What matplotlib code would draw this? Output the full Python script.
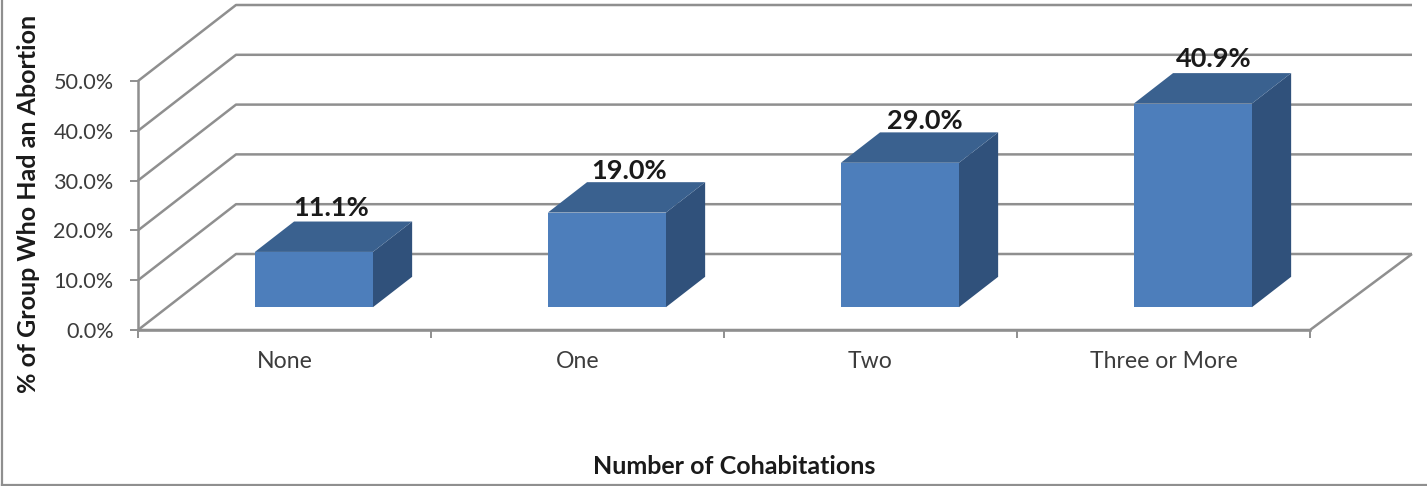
from matplotlib import pyplot as plt
from matplotlib.lines import Line2D
from matplotlib.patches import Polygon
import numpy as np

categories = ['None', 'One', 'Two', 'Three or More']
values = [11.1, 19.0, 29.0, 40.9]
value_labels = ['11.1%', '19.0%', '29.0%', '40.9%']
y_ticks = [0, 10, 20, 30, 40, 50]

W, H = 1427, 486
GRID = '#8f8f8f'
FRONT, TOP, SIDE = '#4d7ebb', '#3a618f', '#30517b'

plt.rcParams['font.family'] = ['Lato', 'DejaVu Sans']

fig = plt.figure(figsize=(W / 100, H / 100), dpi=100)
# front plane of the fake 3d box, in pixels: x 138-1310, y 330-81
ax = fig.add_axes([138 / W, 1 - 330 / H, 1172 / W, 249 / H])
ax.set_xlim(0, 4)
ax.set_ylim(0, 50)
ax.patch.set_visible(False)

# how far the back wall is shifted from the front plane, in data units
depth_x = 98 / 293
depth_y = 76 / (249 / 50)
right_x = 4 + 102 / 293  # right end of the back wall runs a little further


def project(x, y, d):
    return (x + d * depth_x, y + d * depth_y)


def draw_line(points, **kw):
    xs, ys = zip(*points)
    ax.plot(xs, ys, color=GRID, clip_on=False, solid_capstyle='butt', **kw)


for v in y_ticks:
    # wall diagonal, then the line along the back wall
    back_y = project(0, v, 1)[1]
    draw_line([project(0, v, 0), project(0, v, 1), (right_x, back_y)], lw=1.8, zorder=1)
draw_line([project(0, 0, 0), project(4, 0, 0), (right_x, project(0, 0, 1)[1])], lw=1.8, zorder=1)

bar_w = 0.403
d0, d1 = 0.3, 0.7
# the labels don't sit at quite the same spot over each bar, offsets in points
label_dx = [-2, 2, 4, 1]
label_dy = [10, 8, 8, 10]
for i, v in enumerate(values):
    left = i + 0.5 - bar_w / 2
    right = left + bar_w
    top = [project(left, v, d0), project(right, v, d0), project(right, v, d1), project(left, v, d1)]
    side = [project(right, 0, d0), project(right, v, d0), project(right, v, d1), project(right, 0, d1)]
    front = [project(left, 0, d0), project(right, 0, d0), project(right, v, d0), project(left, v, d0)]
    ax.add_patch(Polygon(side, closed=True, fc=SIDE, ec='none', clip_on=False, zorder=3))
    ax.add_patch(Polygon(top, closed=True, fc=TOP, ec='none', clip_on=False, zorder=3))
    ax.add_patch(Polygon(front, closed=True, fc=FRONT, ec='none', clip_on=False, zorder=4))
    lx = project(i + 0.5, v, 0.5)[0]
    ly = project(i + 0.5, v, d1)[1]
    ax.annotate(value_labels[i], (lx, ly), xytext=(label_dx[i], label_dy[i]), textcoords='offset points',
                ha='center', va='center', fontsize=19.5, fontweight='bold',
                color='#1a1a1a', zorder=5, annotation_clip=False)

for s in ['top', 'right']:
    ax.spines[s].set_visible(False)
for s in ['left', 'bottom']:
    ax.spines[s].set_color(GRID)
    ax.spines[s].set_linewidth(1.8)

ax.set_yticks(y_ticks)
ax.set_yticklabels([f'{v:.1f}%' for v in y_ticks], fontsize=15.6, color='#3c3c3c')
ax.set_xticks(np.arange(0, 5))
ax.set_xticklabels([])
ax.set_xticks(np.arange(len(categories)) + 0.5, minor=True)
ax.set_xticklabels(categories, minor=True, fontsize=16.6, color='#3c3c3c')
ax.tick_params(axis='y', length=6, width=1.4, color=GRID, pad=11.5)
ax.tick_params(axis='x', which='major', length=6, width=1.4, color=GRID)
ax.tick_params(axis='x', which='minor', length=0, pad=15)

fig.text(734 / W, 1 - 466 / H, 'Number of Cohabitations', ha='center', va='center',
         fontsize=18, fontweight='bold', color='#1a1a1a')
fig.text(29 / W, 1 - 204 / H, '% of Group Who Had an Abortion', ha='center', va='center',
         rotation=90, fontsize=18, fontweight='bold', color='#1a1a1a')

# outer chart frame, only left and bottom show in the crop
fig.add_artist(Line2D([2 / W, 2 / W], [1, 1 - 485 / H], color='#8f8f8f', lw=1.6))
fig.add_artist(Line2D([2 / W, 1], [1 - 485 / H, 1 - 485 / H], color='#8f8f8f', lw=1.6))

fig.savefig('out.png', dpi=100)
